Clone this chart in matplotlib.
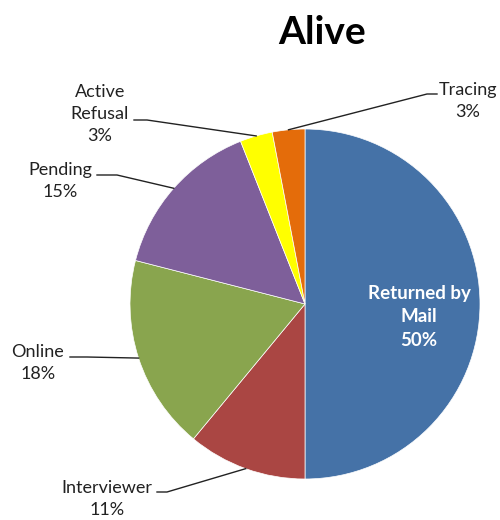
import matplotlib.pyplot as plt
import numpy as np

# data, clockwise from 12 o'clock
labels = ['Returned by\nMail', 'Interviewer', 'Online', 'Pending', 'Active\nRefusal', 'Tracing']
values = [50, 11, 18, 15, 3, 3]
colors = ['#4572A7', '#AA4643', '#89A54E', '#7E5F9A', '#FFFF00', '#E46C0A']

plt.rcParams['font.family'] = ['Lato', 'DejaVu Sans']

H = 520
fig = plt.figure(figsize=(5, 5.2), dpi=100)
ax = fig.add_axes([0, 0, 1, 1])

cx, cy, r = 305, H - 304, 175
wedges, _ = ax.pie(values, colors=colors, startangle=90, counterclock=False,
                   center=(cx, cy), radius=r, frame=True,
                   wedgeprops=dict(edgecolor='white', linewidth=0.5))
ax.set_xlim(0, 500)
ax.set_ylim(0, H)
ax.set_aspect('equal')
ax.axis('off')

# label centre (pixels from top-left), knee of leader line, end next to text
lab_pos = {
    'Tracing': ((468, 101), (427, 94), (437, 94)),
    'Active\nRefusal': ((100, 114), (147, 120), (134, 120)),
    'Pending': ((60, 181), (117, 175), (97, 175)),
    'Online': ((38, 363), (87, 357), (70, 357)),
    'Interviewer': ((107, 499), (167, 492), (157, 492)),
}

for lab, val, w in zip(labels, values, wedges):
    ang = np.deg2rad((w.theta1 + w.theta2) / 2)
    if lab.startswith('Returned'):
        ax.text(419, H - 317, f'{lab}\n{val}%', color='white', fontsize=13.5,
                fontweight='bold', ha='center', va='center', linespacing=1.5)
        continue
    (tx, ty), (kx, ky), (ex, ey) = lab_pos[lab]
    ax.text(tx, H - ty, f'{lab}\n{val}%', color='#222222', fontsize=13,
            ha='center', va='center', linespacing=1.45)
    axx = cx + r * np.cos(ang)
    ayy = cy + r * np.sin(ang)
    ax.plot([axx, kx, ex], [ayy, H - ky, H - ey], color='#222222', lw=1)

ax.text(322, H - 32, 'Alive', fontsize=28, fontweight='bold', ha='center', va='center')

fig.savefig('out.png', dpi=100)
